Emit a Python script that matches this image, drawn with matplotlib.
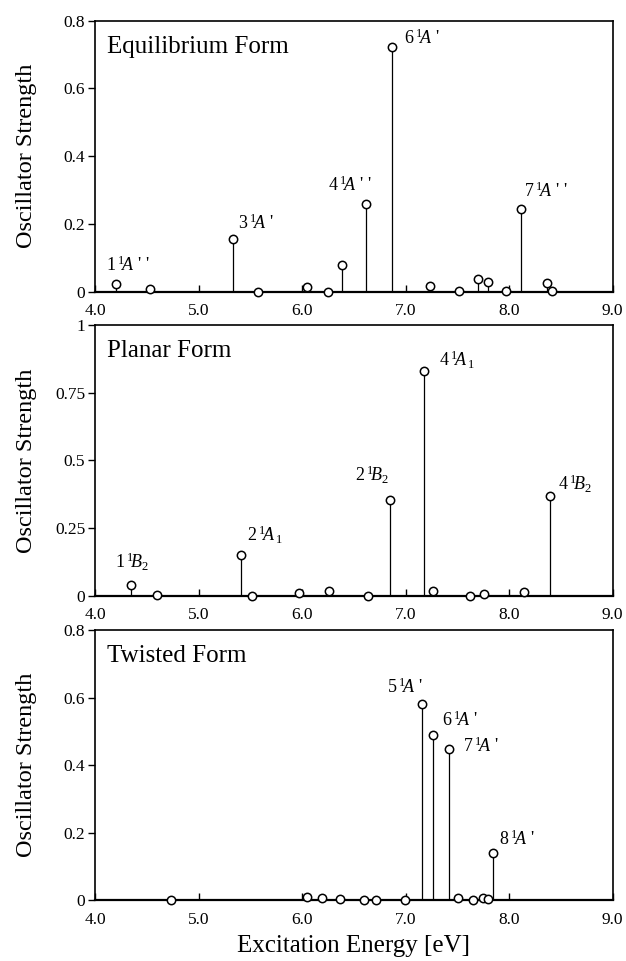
import matplotlib
matplotlib.use("Agg")
import matplotlib.pyplot as plt

plt.rcParams['font.family'] = ['Liberation Serif', 'DejaVu Serif']
plt.rcParams['mathtext.fontset'] = 'custom'
plt.rcParams['mathtext.rm'] = 'Liberation Serif'
plt.rcParams['mathtext.it'] = 'Liberation Serif:italic'
plt.rcParams['mathtext.bf'] = 'Liberation Serif:bold'

# ---------------- data ----------------
eq_energy = [4.20, 4.53, 5.33, 5.57, 6.05, 6.25, 6.39, 6.62, 6.87, 7.24, 7.52, 7.70, 7.80, 7.97, 8.11, 8.37, 8.41]
eq_strength = [0.024, 0.007, 0.156, 0.000, 0.013, 0.000, 0.078, 0.258, 0.723, 0.018, 0.001, 0.038, 0.028, 0.003, 0.245, 0.027, 0.001]

pl_energy = [4.35, 4.60, 5.41, 5.52, 5.97, 6.26, 6.64, 6.85, 7.18, 7.26, 7.62, 7.76, 8.14, 8.39]
pl_strength = [0.038, 0.002, 0.149, 0.000, 0.011, 0.016, 0.000, 0.353, 0.829, 0.018, 0.000, 0.005, 0.014, 0.367]

tw_energy = [4.73, 6.05, 6.19, 6.37, 6.60, 6.71, 6.99, 7.16, 7.26, 7.42, 7.51, 7.65, 7.75, 7.80, 7.84]
tw_strength = [0.002, 0.011, 0.008, 0.005, 0.000, 0.000, 0.000, 0.581, 0.488, 0.448, 0.006, 0.000, 0.006, 0.004, 0.140]

panel_titles = ["Equilibrium Form", "Planar Form", "Twisted Form"]

eq_labels = [r"1$\,{}^{1}\!A$ ' '", r"3$\,{}^{1}\!A$ '", r"4$\,{}^{1}\!A$ ' '", r"6$\,{}^{1}\!A$ '", r"7$\,{}^{1}\!A$ ' '"]
eq_label_xy = [(4.11, 0.062), (5.38, 0.184), (6.25, 0.298), (6.98, 0.730), (8.14, 0.280)]

pl_labels = [r"1$\,{}^{1}\!B_{2}$", r"2$\,{}^{1}\!A_{\,1}$", r"2$\,{}^{1}\!B_{2}$", r"4$\,{}^{1}\!A_{\,1}$", r"4$\,{}^{1}\!B_{2}$"]
pl_label_xy = [(4.19, 0.103), (5.47, 0.200), (6.51, 0.421), (7.32, 0.849), (8.47, 0.390)]

tw_labels = [r"5$\,{}^{1}\!A$ '", r"6$\,{}^{1}\!A$ '", r"7$\,{}^{1}\!A$ '", r"8$\,{}^{1}\!A$ '"]
tw_label_xy = [(6.82, 0.614), (7.35, 0.516), (7.55, 0.440), (7.90, 0.163)]

x_ticks = [4.0, 5.0, 6.0, 7.0, 8.0, 9.0]
x_ticklabels = ["4.0", "5.0", "6.0", "7.0", "8.0", "9.0"]
y_ticks_a = [0, 0.2, 0.4, 0.6, 0.8]
y_ticklabels_a = ["0", "0.2", "0.4", "0.6", "0.8"]
y_ticks_b = [0, 0.25, 0.5, 0.75, 1.0]
y_ticklabels_b = ["0", "0.25", "0.5", "0.75", "1"]

# ---------------- figure ----------------
fig = plt.figure(figsize=(6.26, 9.61), dpi=100)
left, width = 0.1518, 0.827
rects = [(left, 0.6965, width, 0.2820),
         (left, 0.3801, width, 0.2817),
         (left, 0.0630, width, 0.2814)]

panels = [
    (eq_energy, eq_strength, eq_labels, eq_label_xy, y_ticks_a, y_ticklabels_a, 0.8),
    (pl_energy, pl_strength, pl_labels, pl_label_xy, y_ticks_b, y_ticklabels_b, 1.0),
    (tw_energy, tw_strength, tw_labels, tw_label_xy, y_ticks_a, y_ticklabels_a, 0.8),
]

for i, (rect, (xs, ys, labs, labxy, yt, ytl, ymax)) in enumerate(zip(rects, panels)):
    ax = fig.add_axes(rect)
    ax.vlines(xs, 0, ys, colors='black', linewidth=0.9, zorder=2)
    ax.plot(xs, ys, linestyle='none', marker='o', markersize=6,
            markerfacecolor='white', markeredgecolor='black', markeredgewidth=1.1,
            zorder=3, clip_on=False)
    ax.set_xlim(4.0, 9.0)
    ax.set_ylim(0, ymax)
    ax.set_xticks(x_ticks)
    ax.set_xticklabels(x_ticklabels)
    ax.set_yticks(yt)
    ax.set_yticklabels(ytl)
    ax.tick_params(axis='x', direction='in', length=5, width=1.0, labelsize=12.5, pad=8)
    ax.tick_params(axis='y', direction='out', length=5, width=1.0, labelsize=12.5, pad=2)
    for sp in ax.spines.values():
        sp.set_linewidth(1.2)
    ax.spines['bottom'].set_linewidth(1.6)
    ax.set_ylabel("Oscillator Strength", fontsize=17.5)
    ax.yaxis.set_label_coords(-0.112, 0.5)
    ax.text(0.0226, 0.882, panel_titles[i], transform=ax.transAxes,
            fontsize=18, ha='left', va='baseline')
    for lab, (lx, ly) in zip(labs, labxy):
        ax.text(lx, ly, lab, fontsize=13, ha='left', va='baseline')
    if i == 2:
        ax.set_xlabel("Excitation Energy [eV]", fontsize=18, labelpad=5)

fig.savefig("out.png", dpi=100)
